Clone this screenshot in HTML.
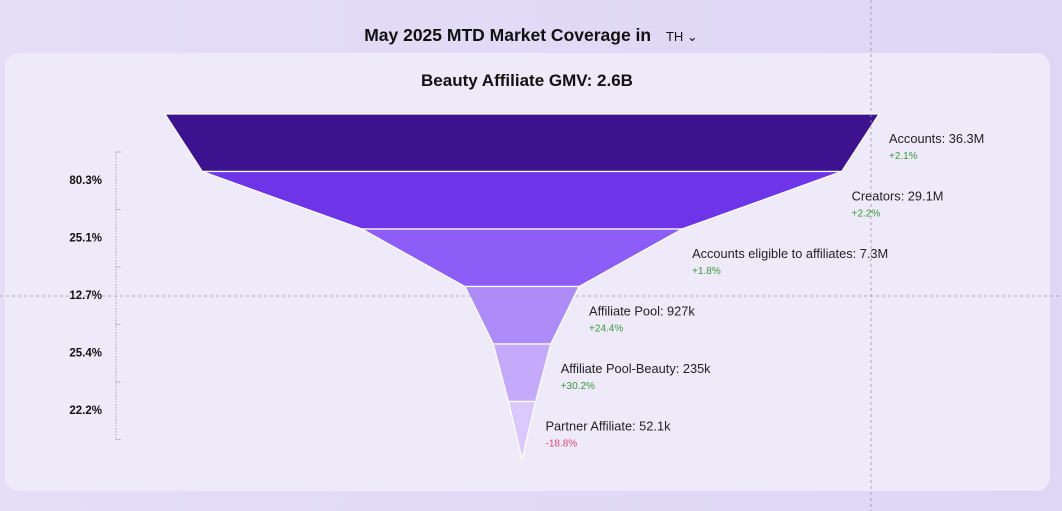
<!DOCTYPE html>
<html><head><meta charset="utf-8"><style>
body{margin:0;width:1062px;height:511px;overflow:hidden;background:linear-gradient(90deg,#e6def7,#ddd6f5);font-family:"Liberation Sans",sans-serif;}
#wrap{position:relative;width:1062px;height:511px;}
#card{position:absolute;left:5px;top:53px;width:1045px;height:438px;border-radius:14px;background:#eeeaf9;}
#title{position:absolute;left:0;width:1062px;top:25px;text-align:center;font-weight:bold;font-size:17.5px;color:#111;}
svg{position:absolute;left:0;top:0;}
</style></head><body>
<div id="wrap">
<div id="card"></div>
<div id="title">May 2025 MTD Market Coverage in <span style="font-weight:normal;font-size:13px;margin-left:10px;">TH &#8964;</span></div>
<svg id="chart" width="1062" height="511"></svg>
</div>
<script>
const stages=["Accounts","Creators","Accounts eligible to affiliates","Affiliate Pool","Affiliate Pool-Beauty","Partner Affiliate"];
const valueLabels=["36.3M","29.1M","7.3M","927k","235k","52.1k"];
const values=[36300000,29100000,7300000,927000,235000,52100];
const changes=["+2.1%","+2.2%","+1.8%","+24.4%","+30.2%","-18.8%"];
const conversions=["80.3%","25.1%","12.7%","25.4%","22.2%"];
const colors=["#3c128e","#6d34e8","#8d5df8","#ad8cfa","#c5a9fb","#dbc8fc"];
const NS="http://www.w3.org/2000/svg";
const svg=document.getElementById('chart');
const cx=522,top0=114,rowH=57.5,maxHalf=357;
const maxV=Math.max(...values);
function half(v){return maxHalf*Math.sqrt(v/maxV);}
function mk(t,a){const e=document.createElementNS(NS,t);for(const k in a)e.setAttribute(k,a[k]);svg.appendChild(e);return e;}
function txt(x,y,s,size,fill,weight,anchor){const e=mk('text',{x:x,y:y,'font-size':size,fill:fill,'font-family':'Liberation Sans, sans-serif','font-weight':weight||'normal','text-anchor':anchor||'start'});e.textContent=s;return e;}
const sub=txt(527,86,"Beauty Affiliate GMV: 2.6B",17,"#111","bold","middle");


values.forEach((v,i)=>{
  const y0=top0+i*rowH,y1=y0+rowH;
  const h0=half(v),h1=i<values.length-1?half(values[i+1]):0;
  const p=mk('polygon',{points:`${cx-h0},${y0} ${cx+h0},${y0} ${cx+h1},${y1} ${cx-h1},${y1}`,fill:colors[i],stroke:'#ffffff','stroke-width':1.2});
  
  
  const l=txt(cx+h0+10,y0+29,stages[i]+": "+valueLabels[i],12.8,"#222");
  
  
  const c=txt(cx+h0+10,y0+45,changes[i],10,changes[i][0]==='-'?'#e0457b':'#3a9a3a');
  
  
});
const ax=mk('line',{x1:116,y1:152,x2:116,y2:440,stroke:'#aaa','stroke-dasharray':'1.5,1.5'});


for(let i=0;i<=values.length-1;i++){const t=mk('line',{x1:116,y1:152+i*rowH,x2:121,y2:152+i*rowH,stroke:'#999','stroke-dasharray':'1.5,1.5'});}
conversions.forEach((c,i)=>{const t=txt(102,top0+i*rowH+70,c,11.5,"#111","bold","end");});
const vl=mk('line',{x1:871,y1:0,x2:871,y2:511,stroke:'#999','stroke-dasharray':'3,3','stroke-width':0.8});


const hl=mk('line',{x1:0,y1:296,x2:1062,y2:296,stroke:'#999','stroke-dasharray':'3,3','stroke-width':0.8});


</script>
</body></html>
